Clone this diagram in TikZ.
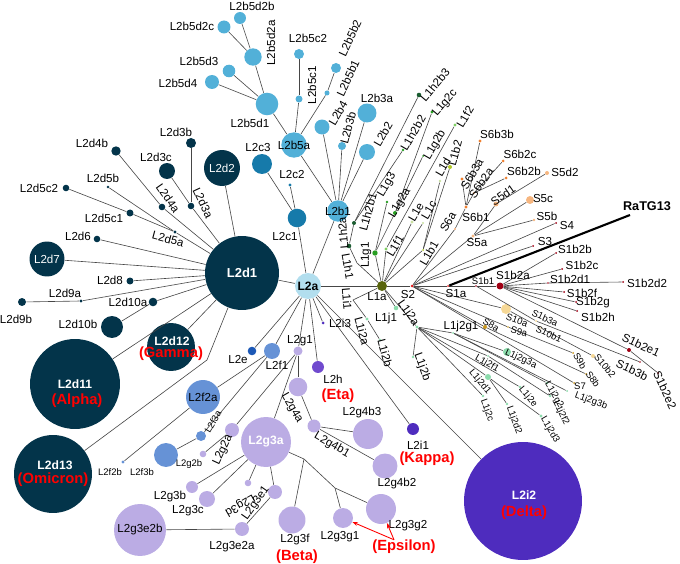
\documentclass[tikz,border=0pt]{standalone}
\usepackage{fontspec}
\setmainfont{Liberation Sans}
\usepackage{xcolor}
\usetikzlibrary{arrows.meta}
\definecolor{NavyColor}{RGB}{3,52,74}
\definecolor{TealColor}{RGB}{22,122,170}
\definecolor{SkyColor}{RGB}{82,176,216}
\definecolor{PaleSkyColor}{RGB}{178,222,238}
\definecolor{RoyalColor}{RGB}{28,88,182}
\definecolor{CornColor}{RGB}{102,146,214}
\definecolor{LavColor}{RGB}{187,172,228}
\definecolor{VioletColor}{RGB}{112,74,206}
\definecolor{IndigoColor}{RGB}{78,44,190}
\definecolor{OliveColor}{RGB}{88,100,12}
\definecolor{PineColor}{RGB}{26,92,48}
\definecolor{LeafColor}{RGB}{40,158,34}
\definecolor{LimeColor}{RGB}{128,208,100}
\definecolor{MossColor}{RGB}{200,224,160}
\definecolor{YGColor}{RGB}{176,200,40}
\definecolor{MintColor}{RGB}{140,220,172}
\definecolor{RedDotColor}{RGB}{226,30,30}
\definecolor{MaroonColor}{RGB}{160,0,20}
\definecolor{PeachColor}{RGB}{246,182,128}
\definecolor{OrangeColor}{RGB}{240,128,48}
\definecolor{CreamColor}{RGB}{246,216,150}
\definecolor{GoldColor}{RGB}{200,150,30}
\definecolor{VariantRed}{RGB}{255,0,0}
\definecolor{LinkGray}{RGB}{70,70,70}
\tikzset{
  hap/.style={circle, inner sep=0pt, minimum size=#1*0.04cm},
  lab/.style={font=\fontsize{6.6}{7}\selectfont, inner sep=0pt},
  slab/.style={font=\fontsize{5.4}{6}\selectfont, inner sep=0pt},
  inlab/.style={font=\fontsize{6.6}{7}\selectfont, inner sep=0pt},
  inbold/.style={font=\bfseries\fontsize{6.9}{7}\selectfont, inner sep=0pt, text=white},
  varlab/.style={font=\bfseries\fontsize{8.4}{9}\selectfont, inner sep=0pt, text=VariantRed},
  link/.style={draw=LinkGray, line width=0.35pt},
}

\begin{document}
\begin{tikzpicture}[x=0.02cm, y=-0.02cm]
      \useasboundingbox (0,0) rectangle (680,564);

      % L2d
      \node[hap=37, fill=NavyColor] (L2d1) at (242,273) {};
      \node[hap=18, fill=NavyColor] (L2d2) at (222,168) {};
      \node[hap=3.3, fill=NavyColor] (L2d3a) at (191,206) {};
      \node[hap=5, fill=NavyColor] (L2d3b) at (191,143) {};
      \node[hap=8, fill=NavyColor] (L2d3c) at (167,171) {};
      \node[hap=3.3, fill=NavyColor] (L2d4a) at (162,207) {};
      \node[hap=4.7, fill=NavyColor] (L2d4b) at (116,151) {};
      \node[hap=1.7, fill=NavyColor] (L2d5a) at (175,232) {};
      \node[hap=1.3, fill=NavyColor] (L2d5b) at (108,187) {};
      \node[hap=3.5, fill=NavyColor] (L2d5c1) at (130,213) {};
      \node[hap=3.3, fill=NavyColor] (L2d5c2) at (66,188) {};
      \node[hap=3.3, fill=NavyColor] (L2d6) at (97,239) {};
      \node[hap=17.5, fill=NavyColor] (L2d7) at (47,259) {};
      \node[hap=3.5, fill=NavyColor] (L2d8) at (130,281) {};
      \node[hap=1.7, fill=NavyColor] (L2d9a) at (81,301) {};
      \node[hap=4, fill=NavyColor] (L2d9b) at (22,302) {};
      \node[hap=4.3, fill=NavyColor] (L2d10a) at (153,302) {};
      \node[hap=11, fill=NavyColor] (L2d10b) at (112,327) {};
      \node[hap=45, fill=NavyColor] (L2d11) at (75,384) {};
      \node[hap=24, fill=NavyColor] (L2d12) at (171,347) {};
      \node[hap=39, fill=NavyColor] (L2d13) at (53,474) {};
      \coordinate (bend13) at (207,360);

      % L2a, L2c, L2b
      \node[hap=13, fill=PaleSkyColor] (L2a) at (308,286) {};
      \node[hap=9.3, fill=TealColor] (L2c1) at (297,218) {};
      \node[hap=1.7, fill=TealColor] (L2c2) at (290,185) {};
      \node[hap=10, fill=TealColor] (L2c3) at (262,164) {};
      \node[hap=10.7, fill=SkyColor] (L2b1) at (338,211) {};
      \node[hap=8, fill=SkyColor] (L2b2) at (367,152) {};
      \node[hap=9.5, fill=SkyColor] (L2b3a) at (367,113) {};
      \node[hap=4, fill=SkyColor] (L2b3b) at (342,146) {};
      \node[hap=7.5, fill=SkyColor] (L2b4) at (322,127) {};
      \node[hap=12.7, fill=SkyColor] (L2b5a) at (294,145) {};
      \node[hap=2.5, fill=SkyColor] (L2b5b1) at (327,93) {};
      \node[hap=5, fill=SkyColor] (L2b5b2) at (336,68) {};
      \node[hap=3.5, fill=SkyColor] (L2b5c1) at (299,99) {};
      \node[hap=5, fill=SkyColor] (L2b5c2) at (299,54) {};
      \node[hap=11.3, fill=SkyColor] (L2b5d1) at (267,104) {};
      \node[hap=8.7, fill=SkyColor] (L2b5d2a) at (253,57) {};
      \node[hap=6, fill=SkyColor] (L2b5d2b) at (240,18) {};
      \node[hap=6.5, fill=SkyColor] (L2b5d2c) at (224,27) {};
      \node[hap=6.3, fill=SkyColor] (L2b5d3) at (229,71) {};
      \node[hap=7, fill=SkyColor] (L2b5d4) at (212,82) {};

      % L2e, L2f, L2g, L2h, L2i
      \node[hap=4.3, fill=RoyalColor] (L2e) at (252,351) {};
      \node[hap=8, fill=CornColor] (L2f1) at (272,351) {};
      \node[hap=17, fill=CornColor] (L2f2a) at (203,397) {};
      \node[hap=1.7, fill=CornColor] (L2f2b) at (123,462) {};
      \node[hap=5, fill=CornColor] (L2f3a) at (201,436) {};
      \node[hap=12, fill=CornColor] (L2f3b) at (166,455) {};
      \node[hap=4.5, fill=LavColor] (L2g1) at (298,351) {};
      \node[hap=7, fill=LavColor] (L2g2a) at (232,430) {};
      \node[hap=3.3, fill=LavColor] (L2g2b) at (203,454) {};
      \node[hap=25, fill=LavColor] (L2g3a) at (266,442) {};
      \node[hap=6, fill=LavColor] (L2g3b) at (192,487) {};
      \node[hap=8, fill=LavColor] (L2g3c) at (207,499) {};
      \node[hap=3.3, fill=LavColor] (L2g3d) at (248,483) {};
      \node[hap=7, fill=LavColor] (L2g3e1) at (275,492) {};
      \node[hap=7, fill=LavColor] (L2g3e2a) at (242,529) {};
      \node[hap=26, fill=LavColor] (L2g3e2b) at (140,530) {};
      \node[hap=13.5, fill=LavColor] (L2g3f) at (292,520) {};
      \node[hap=10, fill=LavColor] (L2g3g1) at (343,518) {};
      \node[hap=15, fill=LavColor] (L2g3g2) at (381,509) {};
      \node[hap=9.3, fill=LavColor] (L2g4a) at (298,387) {};
      \node[hap=6.5, fill=LavColor] (L2g4b1) at (314,426) {};
      \node[hap=12.5, fill=LavColor] (L2g4b2) at (385,466) {};
      \node[hap=15, fill=LavColor] (L2g4b3) at (368,434) {};
      \coordinate (g3j1) at (304,459);
      \coordinate (g3j2) at (335,488);
      \node[hap=6, fill=VioletColor] (L2h) at (318,367) {};
      \node[hap=6, fill=IndigoColor] (L2i1) at (413,429) {};
      \node[hap=59, fill=IndigoColor] (L2i2) at (523,501) {};
      \node[hap=1.5, fill=IndigoColor] (L2i3) at (323,323) {};

      % L1
      \node[hap=5, fill=OliveColor] (L1a) at (382,286) {};
      \coordinate (h1j) at (357,263);
      \coordinate (i1j) at (353,300);
      \node[hap=2.3, fill=PineColor] (L1h2a) at (349,246) {};
      \node[hap=2, fill=PineColor] (L1h2b1) at (354,223) {};
      \node[hap=1.3, fill=LeafColor] (L1h2b2) at (403,150) {};
      \node[hap=2.3, fill=PineColor] (L1h2b3) at (419,95) {};
      \node[hap=2.7, fill=LeafColor] (L1g1) at (375,253) {};
      \node[hap=2, fill=LeafColor] (L1g2a) at (395,213) {};
      \node[hap=1, fill=LeafColor] (L1g2b) at (423,156) {};
      \node[hap=1.7, fill=LeafColor] (L1g2c) at (432,112) {};
      \node[hap=1.3, fill=LeafColor] (L1g3) at (387,202) {};
      \node[hap=1.7, fill=LimeColor] (L1f1) at (386,249) {};
      \node[hap=1.7, fill=LimeColor] (L1f2) at (455,125) {};
      \node[hap=1.7, fill=MossColor] (L1e) at (412,222) {};
      \node[hap=1.2, fill=MossColor] (L1c) at (423,223) {};
      \node[hap=1.3, fill=MossColor] (L1d) at (440,181) {};
      \node[hap=1, fill=YGColor] (L1b1) at (423,250) {};
      \node[hap=2, fill=YGColor] (L1b2) at (450,167) {};
      \node[hap=1.7, fill=MintColor] (L1i2a) at (367,319) {};
      \node[hap=1.3, fill=MintColor] (L1i2b) at (380,340) {};
      \node[hap=2.3, fill=MintColor] (L1j1) at (396,308) {};
      \node[hap=1.7, fill=MintColor] (L1j2a) at (417,327) {};
      \node[hap=1.3, fill=MintColor] (L1j2b) at (413,357) {};
      \node[hap=1, fill=MintColor] (L1j2g1) at (453,333) {};
      \node[hap=4, fill=MintColor] (L1j2g3a) at (507,352) {};
      \node[hap=1, fill=MintColor] (L1j2g3b) at (567,391) {};
      \node[hap=1.3, fill=MintColor] (L1j2g2) at (547,383) {};
      \node[hap=1, fill=MintColor] (L1j2f1) at (488,356) {};
      \node[hap=1.3, fill=MintColor] (L1j2f2) at (550,396) {};
      \node[hap=3, fill=MintColor] (L1j2d1) at (488,377) {};
      \node[hap=1.3, fill=MintColor] (L1j2d2) at (507,404) {};
      \node[hap=1.7, fill=MintColor] (L1j2d3) at (541,416) {};
      \node[hap=1.3, fill=MintColor] (L1j2c) at (483,396) {};
      \node[hap=1.3, fill=MintColor] (L1j2e) at (520,387) {};

      % S
      \node[hap=1.5, fill=RedDotColor] (S2) at (412,286) {};
      \node[hap=1, fill=RedDotColor] (S1a) at (448,286) {};
      \node[hap=0.8, fill=MaroonColor] (S1b1) at (476,286) {};
      \node[hap=3.5, fill=MaroonColor] (S1b2a) at (500,286) {};
      \node[hap=1, fill=MaroonColor] (S1b2b) at (556,253) {};
      \node[hap=1, fill=MaroonColor] (S1b2c) at (562,269) {};
      \node[hap=0.8, fill=MaroonColor] (S1b2d1) at (548,283) {};
      \node[hap=1, fill=MaroonColor] (S1b2d2) at (623,282) {};
      \node[hap=1, fill=MaroonColor] (S1b2f) at (564,292) {};
      \node[hap=1, fill=MaroonColor] (S1b2g) at (576,302) {};
      \node[hap=1, fill=MaroonColor] (S1b2h) at (577,311) {};
      \node[hap=2, fill=MaroonColor] (S1b2e1) at (629,350) {};
      \node[hap=1, fill=MaroonColor] (S1b2e2) at (658,373) {};
      \node[hap=1, fill=CreamColor] (S1b3a) at (536,321) {};
      \node[hap=0.8, fill=MaroonColor] (S1b3b) at (640,362) {};
      \node[hap=1, fill=MaroonColor] (S3) at (533,246) {};
      \node[hap=1, fill=MaroonColor] (S4) at (556,223) {};
      \coordinate (RaTG13) at (630,215);
      \node[hap=1.7, fill=PeachColor] (S5a) at (473,236) {};
      \node[hap=1.3, fill=PeachColor] (S5b) at (534,220) {};
      \node[hap=4, fill=PeachColor] (S5c) at (530,200) {};
      \node[hap=2.5, fill=PeachColor] (S5d1) at (496,204) {};
      \node[hap=2, fill=PeachColor] (S5d2) at (547,173) {};
      \node[hap=0.8, fill=OrangeColor] (S6a) at (455,229) {};
      \node[hap=1.7, fill=OrangeColor] (S6b1) at (466,207) {};
      \node[hap=0.8, fill=OrangeColor] (S6b2a) at (474,193) {};
      \node[hap=1.5, fill=OrangeColor] (S6b2b) at (506,178) {};
      \node[hap=1.5, fill=OrangeColor] (S6b2c) at (503,161) {};
      \node[hap=1.7, fill=OrangeColor] (S6b3a) at (462,179) {};
      \node[hap=1.7, fill=OrangeColor] (S6b3b) at (480,141) {};
      \node[hap=1, fill=GoldColor] (S7) at (574,383) {};
      \node[hap=2, fill=GoldColor] (S8a) at (485,327) {};
      \node[hap=1, fill=GoldColor] (S8b) at (586,374) {};
      \node[hap=0.8, fill=GoldColor] (S9a) at (508,327) {};
      \node[hap=1, fill=GoldColor] (S9b) at (573,353) {};
      \node[hap=5, fill=CreamColor] (S10a) at (506,309) {};
      \node[hap=0.8, fill=CreamColor] (S10b1) at (541,328) {};
      \node[hap=2, fill=CreamColor] (S10b2) at (593,356) {};

      % links
      \draw[link] (L2d1)--(L2a);
      \draw[link] (L2d2)--(L2d1);
      \draw[link] (L2d3a)--(L2d1);
      \draw[link] (L2d3b)--(L2d3a);
      \draw[link] (L2d3c)--(L2d3a);
      \draw[link] (L2d4a)--(L2d1);
      \draw[link] (L2d4b)--(L2d4a);
      \draw[link] (L2d5a)--(L2d1);
      \draw[link] (L2d5b)--(L2d5a);
      \draw[link] (L2d5c1)--(L2d5a);
      \draw[link] (L2d5c2)--(L2d5c1);
      \draw[link] (L2d6)--(L2d1);
      \draw[link] (L2d7)--(L2d1);
      \draw[link] (L2d8)--(L2d1);
      \draw[link] (L2d9a)--(L2d1);
      \draw[link] (L2d9b)--(L2d9a);
      \draw[link] (L2d10a)--(L2d1);
      \draw[link] (L2d10b)--(L2d10a);
      \draw[link] (L2d11)--(L2d1);
      \draw[link] (L2d12)--(L2d1);
      \draw[link] (L2d13)--(bend13)--(L2d1);

      \draw[link] (L2c1)--(L2a);
      \draw[link] (L2c2)--(L2c1);
      \draw[link] (L2c3)--(L2c1);
      \draw[link] (L2b1)--(L2a);
      \draw[link] (L2b2)--(L2b1);
      \draw[link] (L2b3a)--(L2b1);
      \draw[link] (L2b3b)--(L2b1);
      \draw[link] (L2b4)--(L2b1);
      \draw[link] (L2b5a)--(L2b1);
      \draw[link] (L2b5b1)--(L2b5a);
      \draw[link] (L2b5b2)--(L2b5b1);
      \draw[link] (L2b5c1)--(L2b5a);
      \draw[link] (L2b5c2)--(L2b5c1);
      \draw[link] (L2b5d1)--(L2b5a);
      \draw[link] (L2b5d2a)--(L2b5d1);
      \draw[link] (L2b5d2b)--(L2b5d2a);
      \draw[link] (L2b5d2c)--(L2b5d2a);
      \draw[link] (L2b5d3)--(L2b5d1);
      \draw[link] (L2b5d4)--(L2b5d1);

      \draw[link] (L2a)--(L2e);
      \draw[link] (L2a)--(L2f1);
      \draw[link] (L2a)--(L2g1);
      \draw[link] (L2a)--(L2h);
      \draw[link] (L2a)--(L2i3);
      \draw[link] (L2a)--(L2i1);
      \draw[link] (L2a)--(L2i2);
      \draw[link] (L2f1)--(L2f2a);
      \draw[link] (L2f2a)--(L2f2b);
      \draw[link] (L2f1)--(L2f3a);
      \draw[link] (L2f3a)--(L2f3b);
      \draw[link] (L2g1)--(L2g2a);
      \draw[link] (L2g2a)--(L2g2b);
      \draw[link] (L2g1)--(L2g3a);
      \draw[link] (L2g3a)--(L2g3b);
      \draw[link] (L2g3a)--(L2g3c);
      \draw[link] (L2g3a)--(L2g3d);
      \draw[link] (L2g3a)--(L2g3e1);
      \draw[link] (L2g3e1)--(L2g3e2a);
      \draw[link] (L2g3e2a)--(L2g3e2b);
      \draw[link] (L2g3a)--(g3j1)--(g3j2)--(L2g3g2);
      \draw[link] (g3j1)--(L2g3f);
      \draw[link] (g3j2)--(L2g3g1);
      \draw[link] (L2g1)--(L2g4a);
      \draw[link] (L2g4a)--(L2g4b1);
      \draw[link] (L2g4b1)--(L2g4b2);
      \draw[link] (L2g4b1)--(L2g4b3);

      \draw[link] (L2a)--(L1a);
      \draw[link] (L1a)--(h1j)--(L1h2a);
      \draw[link] (L1h2a)--(L1h2b1);
      \draw[link] (L1h2b1)--(L1h2b2);
      \draw[link] (L1h2b1)--(L1h2b3);
      \draw[link] (L1a)--(L1g1);
      \draw[link] (L1g1)--(L1g2a);
      \draw[link] (L1g2a)--(L1g2b);
      \draw[link] (L1g2a)--(L1g2c);
      \draw[link] (L1g1)--(L1g3);
      \draw[link] (L1a)--(L1f1);
      \draw[link] (L1f1)--(L1f2);
      \draw[link] (L1a)--(L1e);
      \draw[link] (L1a)--(L1c);
      \draw[link] (L1a)--(L1b1);
      \draw[link] (L1b1)--(L1b2);
      \draw[link] (L1b1)--(L1d);
      \draw[link] (L1a)--(i1j)--(L1i2a);
      \draw[link] (L1i2a)--(L1i2b);
      \draw[link] (L1a)--(L1j1);
      \draw[link] (L1a)--(L1j2a);
      \draw[link] (L1j2a)--(L1j2b);
      \draw[link] (L1j2a)--(L1j2g1);
      \draw[link] (L1j2g1)--(L1j2g3a);
      \draw[link] (L1j2g1)--(L1j2g3b);
      \draw[link] (L1j2g1)--(L1j2g2);
      \draw[link] (L1j2a)--(L1j2f1);
      \draw[link] (L1j2f1)--(L1j2f2);
      \draw[link] (L1j2a)--(L1j2d1);
      \draw[link] (L1j2d1)--(L1j2d2);
      \draw[link] (L1j2d1)--(L1j2d3);
      \draw[link] (L1j2a)--(L1j2c);
      \draw[link] (L1j2a)--(L1j2e);

      \draw[link] (L1a)--(S2);
      \draw[link] (S2)--(S6a);
      \draw[link] (S6a)--(S6b1);
      \draw[link] (S6b1)--(S6b3a);
      \draw[link] (S6b1)--(S6b3b);
      \draw[link] (S6b1)--(S6b2a);
      \draw[link] (S6b2a)--(S6b2b);
      \draw[link] (S6b2a)--(S6b2c);
      \draw[link] (S2)--(S5a);
      \draw[link] (S5a)--(S5b);
      \draw[link] (S5a)--(S5c);
      \draw[link] (S5a)--(S5d1);
      \draw[link] (S5d1)--(S5d2);
      \draw[link] (S2)--(S4);
      \draw[link] (S2)--(S3);
      \draw[link] (S2)--(S1a);
      \draw[link] (S1a)--(S1b1);
      \draw[link] (S1b1)--(S1b2a);
      \draw[black, line width=1.2pt] (S1a)--(RaTG13);
      \draw[link] (S1b2a)--(S1b2b);
      \draw[link] (S1b2a)--(S1b2c);
      \draw[link] (S1b2a)--(S1b2d1);
      \draw[link] (S1b2d1)--(S1b2d2);
      \draw[link] (S1b2a)--(S1b2f);
      \draw[link] (S1b2a)--(S1b2g);
      \draw[link] (S1b2a)--(S1b2h);
      \draw[link] (S1b2a)--(S1b2e1);
      \draw[link] (S1b2e1)--(S1b2e2);
      \draw[link] (S1b1)--(S1b3a);
      \draw[link] (S1b3a)--(S1b3b);
      \draw[link] (S2)--(S10a);
      \draw[link] (S10a)--(S10b1);
      \draw[link] (S10b1)--(S10b2);
      \draw[link] (S2)--(S8a);
      \draw[link] (S8a)--(S8b);
      \draw[link] (S2)--(S9a);
      \draw[link] (S9a)--(S9b);
      \draw[link] (S2)--(S7);

      % labels inside
      \node[inbold, font=\bfseries\fontsize{7.4}{8}\selectfont] (tL2d1) at (L2d1) {L2d1};
      \node[inlab, text=white] (tL2d2) at (L2d2) {L2d2};
      \node[inlab, text=white] (tL2d7) at (L2d7) {L2d7};
      \node[inbold] (tL2d11) at (75,384) {L2d11};
      \node[varlab] (vAlpha) at (77,401) {(Alpha)};
      \node[inbold] (tL2d12) at (172,341) {L2d12};
      \node[varlab] (vGamma) at (171,354) {(Gamma)};
      \node[inbold] (tL2d13) at (55,465) {L2d13};
      \node[varlab] (vOmicron) at (53,480) {(Omicron)};
      \node[inbold, text=black] (tL2a) at (L2a) {L2a};
      \node[inlab] (tL2b5a) at (L2b5a) {L2b5a};
      \node[inlab] (tL2b1) at (L2b1) {L2b1};
      \node[inlab] (tL2f2a) at (L2f2a) {L2f2a};
      \node[inbold] (tL2g3a) at (L2g3a) {L2g3a};
      \node[inlab] (tL2g3e2b) at (L2g3e2b) {L2g3e2b};
      \node[inbold] (tL2i2) at (524,495) {L2i2};
      \node[varlab] (vDelta) at (524,513) {(Delta)};

      % labels L2d
      \node[lab] (tL2d3b) at (176,132) {L2d3b};
      \node[lab] (tL2d3c) at (156,157) {L2d3c};
      \node[lab, rotate=-65] (tL2d3a) at (203,203) {L2d3a};
      \node[lab] (tL2d4b) at (92,143) {L2d4b};
      \node[lab, rotate=-55] (tL2d4a) at (168,198) {L2d4a};
      \node[lab] (tL2d5c2) at (39,188) {L2d5c2};
      \node[lab] (tL2d5b) at (103,178) {L2d5b};
      \node[lab] (tL2d5c1) at (104,218) {L2d5c1};
      \node[lab, rotate=-15] (tL2d5a) at (168,239) {L2d5a};
      \node[lab] (tL2d6) at (78,236) {L2d6};
      \node[lab] (tL2d8) at (110,280) {L2d8};
      \node[lab] (tL2d9a) at (65,293) {L2d9a};
      \node[lab] (tL2d9b) at (16,319) {L2d9b};
      \node[lab] (tL2d10a) at (128,302) {L2d10a};
      \node[lab] (tL2d10b) at (78,324) {L2d10b};

      % labels L2b, L2c
      \node[lab] (tL2b5d2b) at (252,6) {L2b5d2b};
      \node[lab] (tL2b5d2c) at (192,26) {L2b5d2c};
      \node[lab, rotate=90] (tL2b5d2a) at (271,43) {L2b5d2a};
      \node[lab] (tL2b5d3) at (199,61) {L2b5d3};
      \node[lab] (tL2b5d4) at (178,83) {L2b5d4};
      \node[lab] (tL2b5d1) at (250,123) {L2b5d1};
      \node[lab] (tL2b5c2) at (308,38) {L2b5c2};
      \node[lab, rotate=90] (tL2b5c1) at (312,85) {L2b5c1};
      \node[lab, rotate=65] (tL2b5b2) at (350,38) {L2b5b2};
      \node[lab, rotate=65] (tL2b5b1) at (348,78) {L2b5b1};
      \node[lab, rotate=60] (tL2b4) at (338,113) {L2b4};
      \node[lab, rotate=75] (tL2b3b) at (348,128) {L2b3b};
      \node[lab] (tL2b3a) at (377,98) {L2b3a};
      \node[lab, rotate=60] (tL2b2) at (383,134) {L2b2};
      \node[lab] (tL2c3) at (258,148) {L2c3};
      \node[lab] (tL2c2) at (292,175) {L2c2};
      \node[lab] (tL2c1) at (285,237) {L2c1};

      % labels L2e .. L2i
      \node[lab] (tL2e) at (238,360) {L2e};
      \node[lab] (tL2f1) at (277,365) {L2f1};
      \node[slab] (tL2f2b) at (110,472) {L2f2b};
      \node[slab] (tL2f3b) at (142,472) {L2f3b};
      \node[slab, rotate=60] (tL2f3a) at (213,422) {L2f3a};
      \node[slab] (tL2g2b) at (189,464) {L2g2b};
      \node[lab] (tL2g1) at (300,341) {L2g1};
      \node[lab, rotate=65] (tL2g2a) at (223,450) {L2g2a};
      \node[lab] (tL2g3b) at (170,497) {L2g3b};
      \node[lab] (tL2g3c) at (188,511) {L2g3c};
      \node[lab, rotate=210] (tL2g3d) at (240,505) {L2g3d};
      \node[lab, rotate=55] (tL2g3e1) at (256,503) {L2g3e1};
      \node[lab] (tL2g3e2a) at (232,547) {L2g3e2a};
      \node[lab] (tL2g3f) at (295,540) {L2g3f};
      \node[varlab] (vBeta) at (297,557) {(Beta)};
      \node[lab] (tL2g3g1) at (340,537) {L2g3g1};
      \node[lab] (tL2g3g2) at (408,526) {L2g3g2};
      \node[varlab] (vEpsilon) at (404,547) {(Epsilon)};
      \node[lab, rotate=-60] (tL2g4a) at (292,408) {L2g4a};
      \node[lab, rotate=-30] (tL2g4b1) at (332,445) {L2g4b1};
      \node[lab] (tL2g4b3) at (362,413) {L2g4b3};
      \node[lab] (tL2g4b2) at (397,484) {L2g4b2};
      \node[lab] (tL2h) at (333,379) {L2h};
      \node[varlab] (vEta) at (338,396) {(Eta)};
      \node[lab] (tL2i1) at (418,445) {L2i1};
      \node[varlab] (vKappa) at (427,459) {(Kappa)};
      \node[lab] (tL2i3) at (340,323) {L2i3};

      \draw[VariantRed, line width=0.5pt, -{Stealth[length=3pt]}] ([xshift=-0.2cm]vEpsilon.north) -- (L2g3g1);
      \draw[VariantRed, line width=0.5pt, -{Stealth[length=3pt]}] ([xshift=-0.2cm]vEpsilon.north) -- (L2g3g2);

      % labels L1
      \node[lab] (tL1a) at (377,297) {L1a};
      \node[lab, rotate=-80] (tL1h1) at (348,266) {L1h1};
      \node[lab, rotate=95] (tL1h2a) at (343,233) {L1h2a};
      \node[lab, rotate=75] (tL1h2b1) at (368,212) {L1h2b1};
      \node[lab, rotate=60] (tL1h2b2) at (413,133) {L1h2b2};
      \node[lab, rotate=50] (tL1h2b3) at (435,85) {L1h2b3};
      \node[lab, rotate=90] (tL1g1) at (366,255) {L1g1};
      \node[lab, rotate=60] (tL1g2a) at (400,203) {L1g2a};
      \node[lab, rotate=60] (tL1g2b) at (435,145) {L1g2b};
      \node[lab, rotate=50] (tL1g2c) at (445,103) {L1g2c};
      \node[lab, rotate=60] (tL1g3) at (387,185) {L1g3};
      \node[lab, rotate=60] (tL1f1) at (395,246) {L1f1};
      \node[lab, rotate=60] (tL1f2) at (465,117) {L1f2};
      \node[lab, rotate=60] (tL1e) at (416,212) {L1e};
      \node[lab, rotate=60] (tL1c) at (429,210) {L1c};
      \node[lab, rotate=60] (tL1d) at (443,167) {L1d};
      \node[lab, rotate=60] (tL1b1) at (429,253) {L1b1};
      \node[lab, rotate=75] (tL1b2) at (455,153) {L1b2};
      \node[lab, rotate=-85] (tL1i1) at (347,299) {L1i1};
      \node[lab, rotate=-75] (tL1i2a) at (362,331) {L1i2a};
      \node[lab, rotate=-75] (tL1i2b) at (385,353) {L1i2b};
      \node[lab] (tL1j1) at (386,319) {L1j1};
      \node[lab, rotate=-55] (tL1j2a) at (408,313) {L1j2a};
      \node[lab, rotate=-70] (tL1j2b) at (422,367) {L1j2b};
      \node[lab] (tL1j2g1) at (461,327) {L1j2g1};
      \node[slab, rotate=-25] (tL1j2g3a) at (521,359) {L1j2g3a};
      \node[slab, rotate=-30] (tL1j2f1) at (487,364) {L1j2f1};
      \node[slab, rotate=-50] (tL1j2d1) at (480,382) {L1j2d1};
      \node[slab, rotate=-70] (tL1j2c) at (487,410) {L1j2c};
      \node[slab, rotate=-50] (tL1j2e) at (528,397) {L1j2e};
      \node[slab, rotate=-70] (tL1j2d2) at (514,420) {L1j2d2};
      \node[slab, rotate=-60] (tL1j2d3) at (550,430) {L1j2d3};
      \node[slab, rotate=-60] (tL1j2g2) at (554,395) {L1j2g2};
      \node[slab, rotate=-65] (tL1j2f2) at (561,413) {L1j2f2};
      \node[slab, rotate=-20] (tL1j2g3b) at (591,401) {L1j2g3b};

      % labels S
      \node[lab] (tS2) at (408,295) {S2};
      \node[lab] (tS1a) at (456,294) {S1a};
      \node[slab] (tS1b1) at (483,281) {S1b1};
      \node[lab] (tS1b2a) at (513,275) {S1b2a};
      \node[lab] (tS1b2b) at (575,249) {S1b2b};
      \node[lab] (tS1b2c) at (582,265) {S1b2c};
      \node[lab] (tS1b2d1) at (570,279) {S1b2d1};
      \node[lab] (tS1b2d2) at (647,283) {S1b2d2};
      \node[lab] (tS1b2f) at (582,293) {S1b2f};
      \node[lab] (tS1b2g) at (593,303) {S1b2g};
      \node[lab] (tS1b2h) at (598,317) {S1b2h};
      \node[lab, rotate=-25] (tS1b2e1) at (641,345) {S1b2e1};
      \node[lab, rotate=-65] (tS1b2e2) at (665,390) {S1b2e2};
      \node[slab, rotate=-25] (tS1b3a) at (545,318) {S1b3a};
      \node[lab, rotate=-25] (tS1b3b) at (632,370) {S1b3b};
      \node[slab, rotate=-20] (tS10a) at (517,320) {S10a};
      \node[slab, rotate=-25] (tS10b1) at (549,334) {S10b1};
      \node[slab, rotate=-50] (tS10b2) at (605,366) {S10b2};
      \node[slab, rotate=-15] (tS9a) at (519,332) {S9a};
      \node[slab, rotate=-60] (tS9b) at (580,361) {S9b};
      \node[slab, rotate=-30] (tS8a) at (491,325) {S8a};
      \node[slab, rotate=-55] (tS8b) at (593,379) {S8b};
      \node[slab] (tS7) at (580,386) {S7};
      \node[lab] (tS3) at (545,242) {S3};
      \node[lab] (tS4) at (567,226) {S4};
      \node[lab] (tS5b) at (547,216) {S5b};
      \node[lab] (tS5c) at (543,199) {S5c};
      \node[lab] (tS5d2) at (565,172) {S5d2};
      \node[lab, rotate=35] (tS5d1) at (503,195) {S5d1};
      \node[lab] (tS5a) at (477,243) {S5a};
      \node[lab, rotate=60] (tS6a) at (448,222) {S6a};
      \node[lab] (tS6b1) at (476,217) {S6b1};
      \node[lab, rotate=55] (tS6b2a) at (481,183) {S6b2a};
      \node[lab] (tS6b2b) at (524,171) {S6b2b};
      \node[lab] (tS6b2c) at (520,154) {S6b2c};
      \node[lab, rotate=60] (tS6b3a) at (472,174) {S6b3a};
      \node[lab] (tS6b3b) at (497,134) {S6b3b};
      \node[font=\bfseries\fontsize{7.2}{8}\selectfont, inner sep=0pt] (tRaTG13) at (647,206) {RaTG13};
    \end{tikzpicture}
\end{document}
